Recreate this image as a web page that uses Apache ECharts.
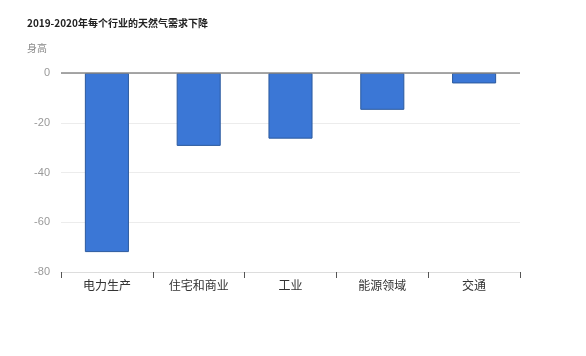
<!DOCTYPE html>
<html>
<head>
<meta charset="utf-8">
<script src="https://cdn.jsdelivr.net/npm/echarts@6/dist/echarts.min.js"></script>
<style>
html,body{margin:0;padding:0;background:#fff;}
#main{width:586px;height:356px;}
</style>
</head>
<body>
<div id="main"></div>
<script>
const titleText = '2019-2020年每个行业的天然气需求下降';
const yAxisName = '身高';
const categories = ['电力生产', '住宅和商业', '工业', '能源领域', '交通'];
const values = [-72, -29.3, -26.4, -14.8, -4.2];
const yMin = -80, yMax = 0, yInterval = 20;

const chart = echarts.init(document.getElementById('main'));
chart.setOption({
  animation: false,
  title: {
    text: titleText,
    left: 22, top: 13,
    textStyle: { fontSize: 10, fontWeight: 'bold', color: '#222', fontFamily: 'Noto Sans CJK SC' }
  },
  grid: { left: 61, right: 66, top: 73, bottom: 84 },
  xAxis: {
    type: 'category',
    data: categories,
    axisLine: { onZero: false, lineStyle: { color: '#dddddd', width: 1 } },
    axisTick: { show: true, length: 6, lineStyle: { color: '#555' } },
    axisLabel: { color: '#333', fontSize: 12, margin: 7, fontFamily: 'Noto Sans CJK SC' }
  },
  yAxis: {
    type: 'value',
    min: yMin, max: yMax, interval: yInterval,
    name: yAxisName,
    nameLocation: 'end',
    nameGap: 20,
    nameTextStyle: { color: '#888', fontSize: 10, align: 'right', padding: [0, 14, 0, 0], fontFamily: 'Noto Sans CJK SC' },
    axisLine: { show: false },
    axisTick: { show: false },
    axisLabel: { color: '#999', fontSize: 11, margin: 11 },
    splitLine: { lineStyle: { color: '#ececec', width: 1 } }
  },
  series: [{
    type: 'bar',
    data: values,
    barWidth: '48%',
    itemStyle: { color: '#3b77d6', borderColor: '#2c5a9e', borderWidth: 1 },
    markLine: {
      silent: true,
      symbol: 'none',
      label: { show: false },
      lineStyle: { color: '#8a8a8a', width: 1.5, type: 'solid' },
      data: [{ yAxis: 0 }]
    }
  }]
});
</script>
</body>
</html>
